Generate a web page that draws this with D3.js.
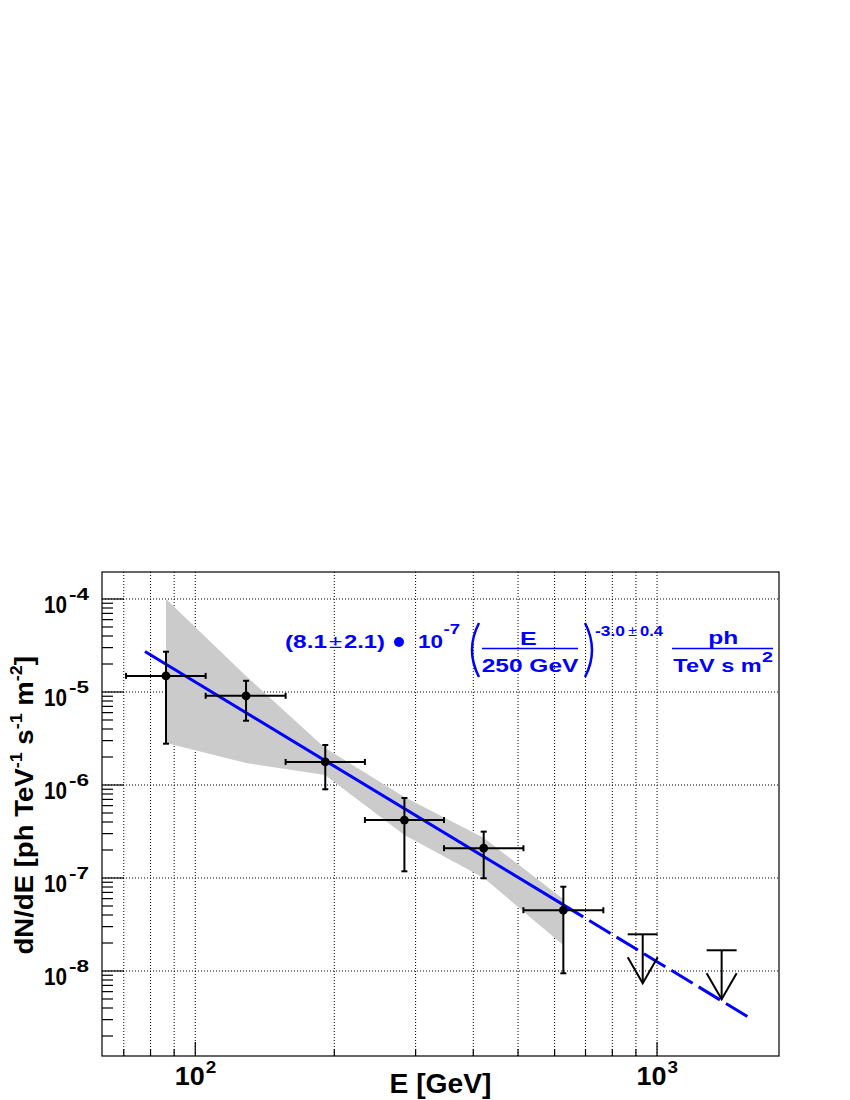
<!DOCTYPE html>
<html>
<head>
<meta charset="utf-8">
<script src="https://cdn.jsdelivr.net/npm/d3@7"></script>
<style>
  html, body { margin: 0; padding: 0; background: #fff; }
  svg { display: block; }
  text { font-family: "Liberation Sans", Arial, Helvetica, sans-serif; }
</style>
</head>
<body>
<svg id="chart" width="850" height="1100"></svg>
<script>
// ---- data ----
const energies   = [86.4, 128.8, 191.2, 283.7, 421.3, 626.7];      // GeV
const energyLow  = [70.8, 105.3, 156.9, 233.0, 345.6, 513.6];
const energyHigh = [105.3, 156.9, 233.0, 345.6, 513.6, 765.0];
const flux       = [1.49e-5, 9.1e-6, 1.77e-6, 4.2e-7, 2.09e-7, 4.5e-8];
const fluxUp     = [2.71e-5, 1.32e-5, 2.69e-6, 7.25e-7, 3.15e-7, 8.06e-8];
const fluxDown   = [2.78e-6, 4.91e-6, 8.99e-7, 1.18e-7, 9.93e-8, 9.45e-9];

const ulEnergies = [931, 1380];
const ulFlux     = [2.48e-8, 1.67e-8];

const bandE      = [86.4, 128.8, 191.0, 283.6, 421.7, 626.0];
const bandUpper  = [1.0e-4, 1.49e-5, 2.5e-6, 7.43e-7, 2.69e-7, 5.94e-8];
const bandLower  = [2.83e-6, 1.72e-6, 1.28e-6, 2.9e-7, 1.0e-7, 1.9e-8];

const fitSolidE  = [77.8, 692];
const fitSolidF  = [2.72e-5, 3.82e-8];
const fitDashE   = [692, 1596];
const fitDashF   = [3.82e-8, 3.08e-9];

const xDomain = [62.8, 1837];
const yDomain = [1.219e-9, 1.951e-4];
const xMajorTicks = [100, 1000];
const xTickLabels = [["10", "2"], ["10", "3"]];
const xMinorTicks = [70, 80, 90, 200, 300, 400, 500, 600, 700, 800, 900];
const yMajorTicks = [1e-8, 1e-7, 1e-6, 1e-5, 1e-4];
const yTickLabels = [["10", "-8"], ["10", "-7"], ["10", "-6"], ["10", "-5"], ["10", "-4"]];

// ---- layout ----
const L = 102, R = 779, T = 572, B = 1056;
const svg = d3.select("#chart");
const x = d3.scaleLog().domain(xDomain).range([L, R]);
const y = d3.scaleLog().domain(yDomain).range([B, T]);

const yMinorTicks = [];
for (let e = -10; e <= -3; e++) for (let m = 2; m <= 9; m++) {
  const v = m * Math.pow(10, e);
  if (v > yDomain[0] && v < yDomain[1]) yMinorTicks.push(v);
}

// grid
const grid = svg.append("g").attr("stroke", "#000").attr("stroke-width", 1).attr("stroke-dasharray", "1,2");
xMinorTicks.concat(xMajorTicks).forEach(v => {
  grid.append("line").attr("x1", x(v)).attr("x2", x(v)).attr("y1", T).attr("y2", B);
});
yMajorTicks.forEach(v => {
  grid.append("line").attr("x1", L).attr("x2", R).attr("y1", y(v)).attr("y2", y(v));
});

// band
const bandPts = bandE.map((e, i) => [x(e), y(bandUpper[i])])
  .concat(bandE.map((e, i) => [x(e), y(bandLower[i])]).reverse());
svg.append("path").attr("d", d3.line()(bandPts) + "Z").attr("fill", "#cbcbcb").attr("stroke", "none");

// fit line
const line = d3.line().x(d => x(d[0])).y(d => y(d[1]));
svg.append("path").attr("d", line(fitSolidE.map((e, i) => [e, fitSolidF[i]])))
  .attr("stroke", "#0000ff").attr("stroke-width", 3).attr("fill", "none");
svg.append("path").attr("d", line(fitDashE.map((e, i) => [e, fitDashF[i]])))
  .attr("stroke", "#0000ff").attr("stroke-width", 3).attr("fill", "none")
  .attr("stroke-dasharray", "25,7").attr("stroke-dashoffset", 25);

// error bars + markers
const eb = svg.append("g").attr("stroke", "#000").attr("stroke-width", 2);
const cap = 3;
energies.forEach((e, i) => {
  const cx = x(e), cy = y(flux[i]);
  eb.append("line").attr("x1", x(energyLow[i])).attr("x2", x(energyHigh[i])).attr("y1", cy).attr("y2", cy);
  eb.append("line").attr("x1", x(energyLow[i])).attr("x2", x(energyLow[i])).attr("y1", cy - cap).attr("y2", cy + cap);
  eb.append("line").attr("x1", x(energyHigh[i])).attr("x2", x(energyHigh[i])).attr("y1", cy - cap).attr("y2", cy + cap);
  eb.append("line").attr("x1", cx).attr("x2", cx).attr("y1", y(fluxUp[i])).attr("y2", y(fluxDown[i]));
  eb.append("line").attr("x1", cx - cap).attr("x2", cx + cap).attr("y1", y(fluxUp[i])).attr("y2", y(fluxUp[i]));
  eb.append("line").attr("x1", cx - cap).attr("x2", cx + cap).attr("y1", y(fluxDown[i])).attr("y2", y(fluxDown[i]));
  svg.append("circle").attr("cx", cx).attr("cy", cy).attr("r", 4.4).attr("fill", "#000");
});

// upper limits
const ul = svg.append("g").attr("stroke", "#000").attr("stroke-width", 2).attr("fill", "none");
ulEnergies.forEach((e, i) => {
  const cx = x(e), cy = y(ulFlux[i]);
  const len = 49, hw = 15, wing = 26;
  ul.append("line").attr("x1", cx - hw).attr("x2", cx + hw).attr("y1", cy).attr("y2", cy);
  ul.append("line").attr("x1", cx).attr("x2", cx).attr("y1", cy).attr("y2", cy + len);
  ul.append("path").attr("d", `M${cx - hw},${cy + len - wing} L${cx},${cy + len} L${cx + hw},${cy + len - wing}`);
});

// frame
svg.append("rect").attr("x", L).attr("y", T).attr("width", R - L).attr("height", B - T)
  .attr("fill", "none").attr("stroke", "#000").attr("stroke-width", 1.2);

// ticks
const tk = svg.append("g").attr("stroke", "#000").attr("stroke-width", 1.2);
xMinorTicks.forEach(v => tk.append("line").attr("x1", x(v)).attr("x2", x(v)).attr("y1", B).attr("y2", B - 7));
xMajorTicks.forEach(v => tk.append("line").attr("x1", x(v)).attr("x2", x(v)).attr("y1", B).attr("y2", B - 14));
yMinorTicks.forEach(v => tk.append("line").attr("x1", L).attr("x2", L + 11).attr("y1", y(v)).attr("y2", y(v)));
yMajorTicks.forEach(v => tk.append("line").attr("x1", L).attr("x2", L + 22).attr("y1", y(v)).attr("y2", y(v)));

// generic text helper with fixed width
function put(g, xp, yp, s, size, opts) {
  opts = opts || {};
  const t = g.append("text").attr("x", xp).attr("y", yp).attr("font-size", size)
    .attr("text-anchor", opts.anchor || "start").attr("font-weight", opts.weight || "bold").text(s);
  if (opts.width) t.attr("textLength", opts.width).attr("lengthAdjust", "spacingAndGlyphs");
  return t;
}

// tick labels
const lab = svg.append("g").attr("fill", "#000");
xMajorTicks.forEach((v, i) => {
  put(lab, x(v) - 20.5, B + 29, xTickLabels[i][0], 25, {width: 30});
  put(lab, x(v) + 10.5, B + 17, xTickLabels[i][1], 17, {width: 10.5});
});
yMajorTicks.forEach((v, i) => {
  put(lab, L - 58, y(v) + 14, yTickLabels[i][0], 24, {width: 23});
  put(lab, L - 33, y(v) + 1, yTickLabels[i][1], 16, {width: 20});
});

// axis titles
put(lab, (L + R) / 2, 1093, "E [GeV]", 28, {anchor: "middle", width: 102});
const yt = svg.append("text").attr("transform", "translate(33,656) rotate(-90) scale(1.06,1)").attr("text-anchor", "end")
  .attr("font-weight", "bold").attr("font-size", 26);
yt.append("tspan").text("dN/dE [ph TeV");
yt.append("tspan").attr("font-size", 17).attr("dy", -11).text("-1");
yt.append("tspan").attr("dy", 11).text(" s");
yt.append("tspan").attr("font-size", 17).attr("dy", -11).text("-1");
yt.append("tspan").attr("dy", 11).text(" m");
yt.append("tspan").attr("font-size", 17).attr("dy", -11).text("-2");
yt.append("tspan").attr("dy", 11).text("]");

// formula
const blue = "#0000ff";
const f = svg.append("g").attr("fill", blue);
put(f, 285, 648, "(8.1", 19, {width: 42});
put(f, 329, 648, "±", 18, {weight: "normal", width: 13});
put(f, 344, 648, "2.1)", 19, {width: 41});
f.append("circle").attr("cx", 399).attr("cy", 642).attr("r", 5).attr("fill", blue);
put(f, 418, 648, "10", 19, {width: 25});
put(f, 443.5, 634, "-7", 15, {width: 16.5});
f.append("path").attr("d", "M479,623 Q465,650 479,677").attr("stroke", blue).attr("stroke-width", 2.5).attr("fill", "none");
f.append("path").attr("d", "M585,623 Q599,650 585,677").attr("stroke", blue).attr("stroke-width", 2.5).attr("fill", "none");
put(f, 520, 645, "E", 19, {width: 16.7});
f.append("line").attr("x1", 482).attr("x2", 578).attr("y1", 648.5).attr("y2", 648.5).attr("stroke", blue).attr("stroke-width", 1.5);
put(f, 481.7, 671.5, "250 GeV", 19, {width: 96.7});
put(f, 595, 636, "-3.0", 15, {width: 30});
put(f, 628.3, 636, "±", 14, {weight: "normal", width: 8.5});
put(f, 640, 636, "0.4", 15, {width: 23});
put(f, 708.3, 644, "ph", 19, {width: 30});
f.append("line").attr("x1", 672).attr("x2", 773).attr("y1", 648.5).attr("y2", 648.5).attr("stroke", blue).attr("stroke-width", 1.5);
put(f, 673.3, 671.5, "TeV s m", 19, {width: 88.4});
put(f, 762, 662, "2", 14, {width: 11});
</script>
</body>
</html>
